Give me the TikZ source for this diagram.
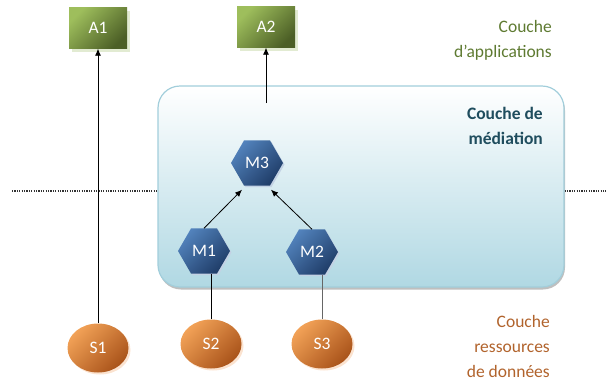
\documentclass[tikz,border=0pt]{standalone}
\usepackage{fontspec}
\setmainfont{Carlito}
\usetikzlibrary{shapes.geometric,shadows,arrows.meta}

\definecolor{appLight}{HTML}{9EBE5C}
\definecolor{appDark}{HTML}{4C5F26}
\definecolor{appShadow}{HTML}{E2EBD2}
\definecolor{hexLight}{HTML}{5282BC}
\definecolor{hexDark}{HTML}{1F3D68}
\definecolor{hexShadow}{HTML}{C3D2E4}
\definecolor{resLight}{HTML}{F2A257}
\definecolor{resDark}{HTML}{A9531A}
\definecolor{resShadow}{HTML}{FBE3D0}
\definecolor{medBottom}{HTML}{B0D8E3}
\definecolor{medBorder}{HTML}{A2CEDB}
\definecolor{txtApp}{HTML}{5E7A31}
\definecolor{txtMed}{HTML}{1F4D5E}
\definecolor{txtRes}{HTML}{B1632C}

\tikzset{
  lbl/.style={font=\fontsize{17.5}{25}\selectfont},
  abox/.style={lbl, text=white, minimum width=58pt, minimum height=41pt,
    inner sep=0pt, top color=appLight, bottom color=appDark, shading angle=45,
    drop shadow={shadow xshift=3pt, shadow yshift=-3pt, fill=appShadow, opacity=1}},
  hexa/.style={lbl, text=white, shape=regular polygon, regular polygon sides=6,
    minimum size=52pt, inner sep=0pt, top color=hexLight, bottom color=hexDark,
    shading angle=45,
    drop shadow={shadow xshift=1.5pt, shadow yshift=-1.5pt, fill=hexShadow, opacity=1}},
  res/.style={lbl, text=white, ellipse, minimum width=61pt, minimum height=49pt,
    inner sep=0pt, top color=resLight, bottom color=resDark, shading angle=45,
    drop shadow={shadow xshift=2pt, shadow yshift=-2pt, fill=resShadow, opacity=1}},
  medbox/.style={rounded corners=22pt, minimum width=406pt, minimum height=201pt,
    top color=white, bottom color=medBottom, draw=medBorder, line width=1.2pt,
    drop shadow={shadow xshift=1pt, shadow yshift=-2.5pt, fill=black!25, opacity=1}},
  arr/.style={-{Latex[length=7pt,width=6pt]}, line width=0.8pt, black},
  link/.style={line width=0.8pt},
  dotline/.style={line width=1.3pt, dash pattern=on 1.2pt off 1.2pt, black!80},
  layer/.style={lbl, align=right, anchor=east, inner sep=0pt},
}

\begin{document}
\begin{tikzpicture}[x=1pt, y=-1pt]
  \useasboundingbox (0,0) rectangle (611,381);

  % mediation layer
  \node[medbox] (med) at (361,186.5) {};

  % layer separator
  \coordinate (dl) at (12,191);
  \coordinate (dr) at (606,191);
  \draw[dotline] (dl) -- (dl -| med.west);
  \draw[dotline] (dr -| med.east) -- (dr);

  % applications
  \node[abox] (a1) at (98,28) {A1};
  \node[abox] (a2) at (266,27) {A2};

  % mediators
  \node[hexa] (m3) at (257,163) {M3};
  \node[hexa] (m1) at (204,251) {M1};
  \node[hexa] (m2) at (312,252) {M2};

  % data sources
  \node[res] (s1) at (98,348) {S1};
  \node[res] (s2) at (211,344) {S2};
  \node[res] (s3) at (322,344) {S3};

  % connectors
  \draw[arr] (s1.north) -- (a1.south);
  \coordinate (a2src) at (266,103);
  \draw[arr] (a2src) -- (a2.south);
  \draw[arr] (m1.north) -- ([xshift=-15pt,yshift=-4pt]m3.south);
  \draw[arr] (m2.north) -- ([xshift=14pt,yshift=-4pt]m3.south);
  \draw[link] (s2.north) -- (s2.north |- m1.south);
  \draw[link, black!60] (s3.north) -- (s3.north |- m2.south);

  % layer captions
  \node[layer, text=txtApp] (lapp) at (552,40) {Couche\\d’applications};
  \node[layer, text=txtMed, font=\fontsize{17.5}{25}\selectfont\bfseries] (lmed) at (543,126) {Couche de\\médiation};
  \node[layer, text=txtRes] (lres) at (550,346) {Couche\\ressources\\de données};
\end{tikzpicture}
\end{document}
